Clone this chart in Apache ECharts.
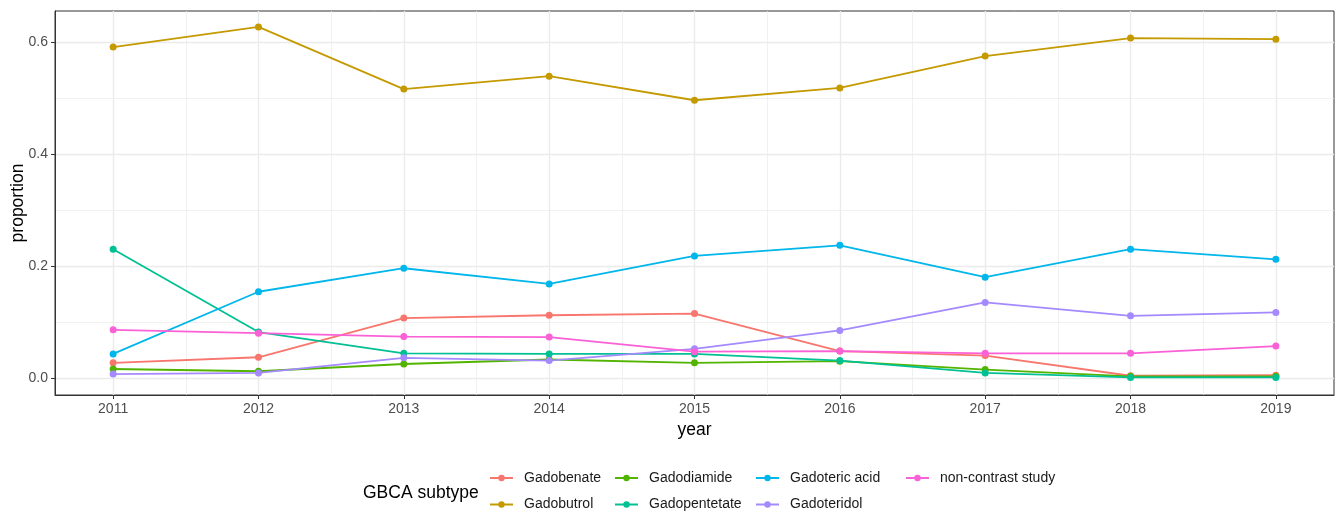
<!DOCTYPE html>
<html>
<head>
<meta charset="utf-8">
<script src="https://cdn.jsdelivr.net/npm/echarts@6/dist/echarts.min.js"></script>
<style>
  html, body { margin: 0; padding: 0; background: #ffffff; }
  #chart { width: 1336px; height: 515px; }
</style>
</head>
<body>
<div id="chart"></div>
<script>
// ---- data ----
const years = [2011, 2012, 2013, 2014, 2015, 2016, 2017, 2018, 2019];
const yTicks = [0, 0.2, 0.4, 0.6];
const yMinorTicks = [0.1, 0.3, 0.5];

const gadobenate    = [0.027, 0.037, 0.107, 0.112, 0.115, 0.048, 0.040, 0.004, 0.005];
const gadobutrol    = [0.591, 0.627, 0.516, 0.539, 0.496, 0.518, 0.575, 0.607, 0.605];
const gadodiamide   = [0.016, 0.012, 0.025, 0.033, 0.027, 0.030, 0.015, 0.003, 0.003];
const gadopentetate = [0.230, 0.082, 0.044, 0.043, 0.043, 0.031, 0.009, 0.001, 0.001];
const gadotericAcid = [0.043, 0.154, 0.196, 0.168, 0.218, 0.237, 0.180, 0.230, 0.212];
const gadoteridol   = [0.007, 0.009, 0.036, 0.031, 0.052, 0.085, 0.135, 0.111, 0.117];
const nonContrast   = [0.086, 0.080, 0.074, 0.073, 0.047, 0.048, 0.044, 0.044, 0.057];

const seriesNames = ['Gadobenate', 'Gadobutrol', 'Gadodiamide', 'Gadopentetate',
                     'Gadoteric acid', 'Gadoteridol', 'non-contrast study'];
const seriesValues = [gadobenate, gadobutrol, gadodiamide, gadopentetate,
                      gadotericAcid, gadoteridol, nonContrast];
const colors = ['#F8766D', '#C49A00', '#53B400', '#00C094', '#00B6EB', '#A58AFF', '#FB61D7'];

// ---- chart ----
const FONT = 'Liberation Sans, Arial, Helvetica, sans-serif';
const xMin = 2010.6, xMax = 2019.4;
const yMin = -0.0304, yMax = 0.6554;
const halfYears = years.slice(0, -1).map(y => y + 0.5);

const chart = echarts.init(document.getElementById('chart'), null, { renderer: 'canvas' });

const series = seriesNames.map((name, i) => ({
  name: name,
  type: 'line',
  xAxisIndex: 0,
  yAxisIndex: 0,
  data: years.map((y, j) => [y, seriesValues[i][j]]),
  symbol: 'circle',
  symbolSize: 7,
  showSymbol: true,
  color: colors[i],
  lineStyle: { width: 1.8, color: colors[i] },
  itemStyle: { color: colors[i] },
  emphasis: { disabled: true },
  animation: false
}));

const legendCommon = {
  orient: 'vertical',
  top: 471,
  height: 60,
  padding: 0,
  itemGap: 12.5,
  itemWidth: 23,
  itemHeight: 8,
  selectedMode: false,
  textStyle: { fontFamily: FONT, fontSize: 14, color: '#1A1A1A', padding: [0, 0, 0, 6] }
};

const option = {
  backgroundColor: '#ffffff',
  animation: false,
  textStyle: { fontFamily: FONT },
  title: {
    text: 'GBCA subtype',
    left: 363,
    top: 484,
    padding: 0,
    textStyle: { fontFamily: FONT, fontSize: 17.5, fontWeight: 'normal', color: '#000000' }
  },
  grid: {
    left: 55, right: 2, top: 11, bottom: 120,
    outerBoundsMode: 'none',
    containLabel: false,
    show: true, borderColor: '#333333', borderWidth: 1, backgroundColor: '#ffffff'
  },
  legend: [
    Object.assign({}, legendCommon, { left: 489, data: ['Gadobenate', 'Gadobutrol'] }),
    Object.assign({}, legendCommon, { left: 614, data: ['Gadodiamide', 'Gadopentetate'] }),
    Object.assign({}, legendCommon, { left: 755, data: ['Gadoteric acid', 'Gadoteridol'] }),
    Object.assign({}, legendCommon, { left: 905, data: ['non-contrast study'] })
  ],
  xAxis: [
    {
      type: 'value', min: xMin, max: xMax, position: 'bottom',
      axisLine: { show: true, onZero: false, lineStyle: { color: '#333333', width: 1 } },
      axisTick: { show: true, length: 4, customValues: years, lineStyle: { color: '#333333', width: 1 } },
      axisLabel: { show: true, customValues: years, margin: 7, fontSize: 14, color: '#4D4D4D',
                   fontFamily: FONT, formatter: v => String(Math.round(v)) },
      splitLine: { show: true, lineStyle: { color: '#EBEBEB', width: 1.4 } },
      name: 'year', nameLocation: 'middle', nameGap: 22,
      nameTextStyle: { fontFamily: FONT, fontSize: 17.5, color: '#000000' }
    },
    {
      type: 'value', min: xMin, max: xMax, position: 'top',
      axisLine: { show: false },
      axisTick: { show: false, customValues: halfYears },
      axisLabel: { show: false },
      splitLine: { show: true, lineStyle: { color: '#EBEBEB', width: 0.7 } }
    }
  ],
  yAxis: [
    {
      type: 'value', min: yMin, max: yMax, position: 'left',
      axisLine: { show: true, onZero: false, lineStyle: { color: '#333333', width: 1 } },
      axisTick: { show: true, length: 4, customValues: yTicks, lineStyle: { color: '#333333', width: 1 } },
      axisLabel: { show: true, customValues: yTicks, margin: 7, fontSize: 14, color: '#4D4D4D',
                   fontFamily: FONT, formatter: v => v.toFixed(1) },
      splitLine: { show: true, lineStyle: { color: '#EBEBEB', width: 1.4 } },
      name: 'proportion', nameLocation: 'middle', nameGap: 28, nameRotate: 90,
      nameMoveOverlap: false,
      nameTextStyle: { fontFamily: FONT, fontSize: 17.5, color: '#000000' }
    },
    {
      type: 'value', min: yMin, max: yMax, position: 'right',
      axisLine: { show: false },
      axisTick: { show: false, customValues: yMinorTicks },
      axisLabel: { show: false },
      splitLine: { show: true, lineStyle: { color: '#EBEBEB', width: 0.7 } }
    }
  ],
  series: series
};

chart.setOption(option);
</script>
</body>
</html>
